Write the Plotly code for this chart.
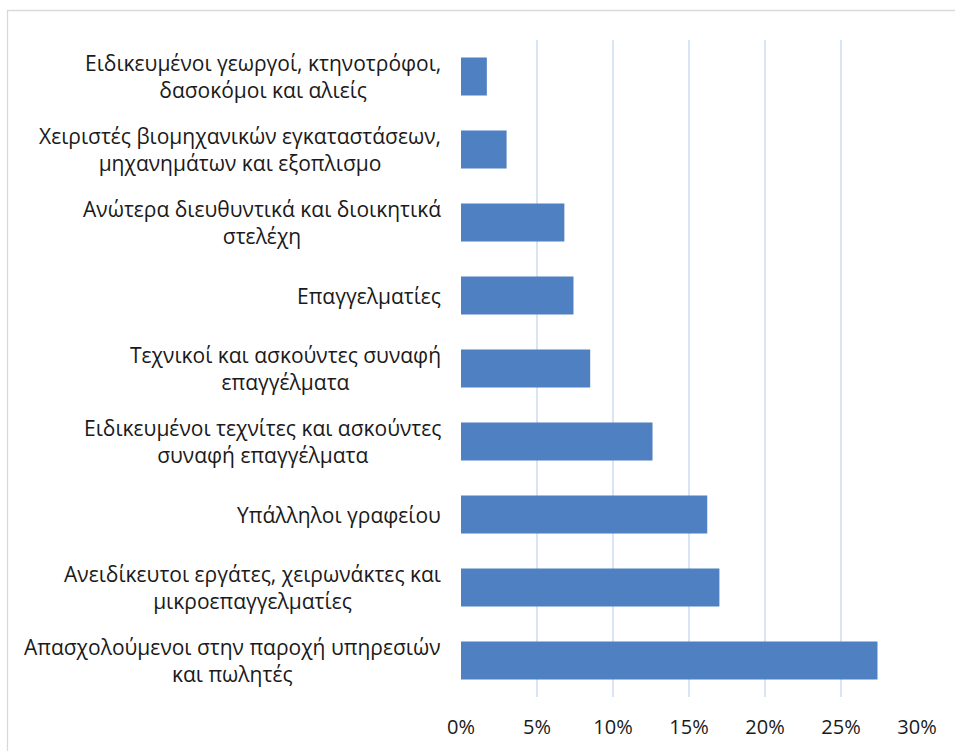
import plotly.graph_objects as go

categories = [
    "Ειδικευμένοι γεωργοί, κτηνοτρόφοι,<br>δασοκόμοι και αλιείς",
    "Χειριστές βιομηχανικών εγκαταστάσεων,<br>μηχανημάτων και εξοπλισμο",
    "Ανώτερα διευθυντικά και διοικητικά<br>στελέχη",
    "Επαγγελματίες",
    "Τεχνικοί και ασκούντες συναφή<br>επαγγέλματα",
    "Ειδικευμένοι τεχνίτες και ασκούντες<br>συναφή επαγγέλματα",
    "Υπάλληλοι γραφείου",
    "Ανειδίκευτοι εργάτες, χειρωνάκτες και<br>μικροεπαγγελματίες",
    "Απασχολούμενοι στην παροχή υπηρεσιών<br>και πωλητές",
]
values = [1.7, 3.0, 6.8, 7.4, 8.5, 12.6, 16.2, 17.0, 27.4]
tick_vals = [0, 5, 10, 15, 20, 25, 30]
tick_text = ["0%", "5%", "10%", "15%", "20%", "25%", "30%"]

FONT = "Open Sans"
W, H = 955, 751
ML, MR, MT, MB = 461, 38, 40, 54
plot_w = W - ML - MR
plot_h = H - MT - MB

fig = go.Figure()
fig.add_trace(go.Bar(
    y=list(range(len(categories))),
    x=values,
    orientation="h",
    width=0.52,
    marker=dict(color="#4f80c2", line=dict(width=0)),
    hoverinfo="x",
))

annotations = []
for i, c in enumerate(categories):
    annotations.append(dict(
        x=0, xref="paper", xanchor="right", xshift=-18,
        y=i, yref="y", yanchor="middle",
        text=c, showarrow=False, align="center",
        font=dict(family=FONT, size=21, color="#1a1a1a"),
    ))

fig.update_layout(
    width=W, height=H,
    margin=dict(l=ML, r=MR, t=MT, b=MB, pad=0),
    paper_bgcolor="white", plot_bgcolor="white",
    showlegend=False,
    xaxis=dict(
        range=[0, 30], tickvals=tick_vals, ticktext=tick_text,
        showgrid=True, gridcolor="#d9e4f4", gridwidth=2,
        zeroline=False, showline=False, ticks="", ticklen=0,
        ticklabelstandoff=16,
        tickfont=dict(family=FONT, size=20, color="#1a1a1a"),
        fixedrange=True,
    ),
    yaxis=dict(
        range=[len(categories) - 0.5, -0.5],
        showticklabels=False, showgrid=False, zeroline=False,
        showline=False, ticks="",
        fixedrange=True,
    ),
    annotations=annotations,
    shapes=[dict(
        type="rect", xref="paper", yref="paper",
        x0=(7.5 - ML) / plot_w, x1=(W + 20 - ML) / plot_w,
        y0=-(H + 20 - MT - plot_h) / plot_h, y1=1 + (MT - 10.5) / plot_h,
        line=dict(color="#d9d9d9", width=1.3), fillcolor="rgba(0,0,0,0)",
        layer="below",
    )],
)

fig.write_html(
    "out.html",
    config={"displayModeBar": False},
    post_script="document.body.style.margin='0';document.body.style.overflow='hidden';",
)
